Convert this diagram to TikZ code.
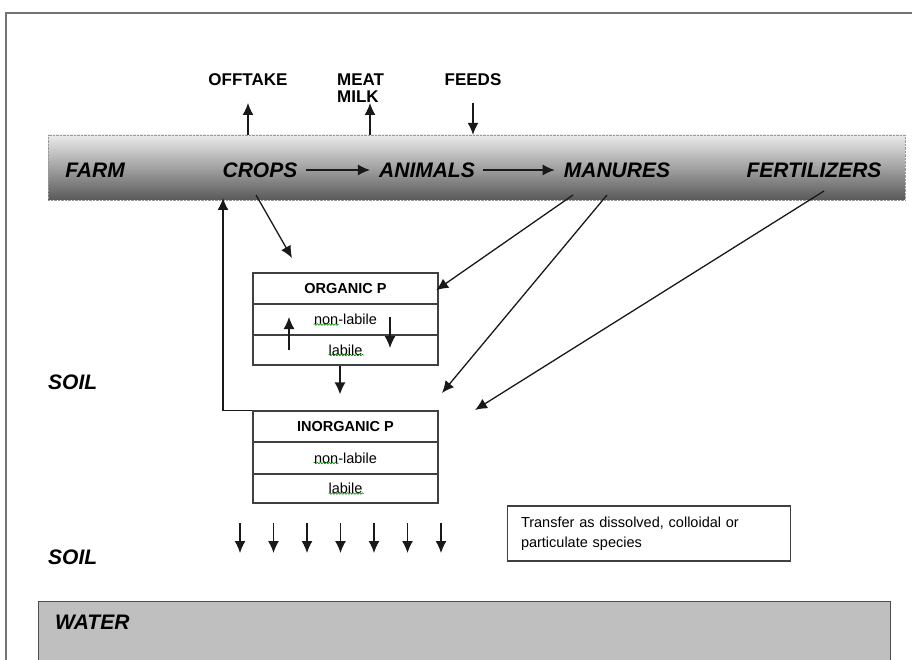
\documentclass[tikz,border=0pt]{standalone}
\usepackage{fontspec}
\setmainfont{Liberation Sans}
\usetikzlibrary{arrows.meta,decorations.pathmorphing}

\begin{document}
\begin{tikzpicture}[x=1pt, y=-1pt, >={Latex[length=12pt,width=11pt]},
      every node/.append style={inner sep=0pt},
      farmlabel/.style={font=\fontsize{21}{24}\selectfont\bfseries\itshape},
      outlabel/.style={font=\fontsize{17}{17}\selectfont\bfseries},
      prow/.style={draw=black!75, line width=1.2pt, minimum width=185pt, font=\fontsize{14.5}{15}\selectfont},
      ptitle/.style={prow, font=\fontsize{14.5}{15}\selectfont\bfseries},
      flow/.style={->, draw=black!90, line width=1.3pt},
      spell/.style={draw=green!55!black, line width=0.6pt, decorate, decoration={snake, amplitude=0.8pt, segment length=3pt}}]
    \path[use as bounding box] (0,0) rectangle (912,660);
    \clip (0,0) rectangle (912,660);
    \draw[black!55, line width=2pt] (6,670) -- (6,13) -- (920,13);

    \node (bandbox) [draw=black!40, densely dotted, top color=black!8, bottom color=black!65,
      minimum width=857pt, minimum height=65pt] at (476.5,167.5) {};
    \node (farm) [farmlabel] at (95,170) {FARM};
    \node (crops) [farmlabel] at (260,170) {CROPS};
    \node (animals) [farmlabel] at (427,170) {ANIMALS};
    \node (manures) [farmlabel] at (617,170) {MANURES};
    \node (fertilizers) [farmlabel] at (814,170) {FERTILIZERS};
    \draw[flow, shorten <=8pt, shorten >=9pt] (crops) -- (animals);
    \draw[flow, shorten <=8pt, shorten >=9pt] (animals) -- (manures);

    \node (offtake) [outlabel] at (248,80) {OFFTAKE};
    \node (meat) [outlabel, anchor=west] at (337,80) {MEAT};
    \node (milk) [outlabel, anchor=west] at (337,97) {MILK};
    \node (feeds) [outlabel] at (473,80) {FEEDS};
    \coordinate (offtip) at (248,103);
    \coordinate (milktip) at (370,103);
    \coordinate (feedtail) at (473,103);
    \draw[flow] (bandbox.north -| offtip) -- (offtip);
    \draw[flow] (bandbox.north -| milktip) -- (milktip);
    \draw[flow] (feedtail) -- (bandbox.north -| feedtail);

    \node (org) [ptitle, minimum height=31pt] at (345.5,288.5) {ORGANIC P};
    \node (orgnl) [prow, minimum height=31pt] at (345.5,319.5) {non-labile};
    \node (orgl) [prow, minimum height=30pt] at (345.5,350) {labile};
    \node (inorg) [ptitle, minimum height=31pt] at (345.5,426.5) {INORGANIC P};
    \node (inorgnl) [prow, minimum height=32pt] at (345.5,458) {non-labile};
    \node (inorgl) [prow, minimum height=29pt] at (345.5,488.5) {labile};
    \draw[spell] ([xshift=-32pt,yshift=-5pt]orgnl.center) -- ++(25,0);
    \draw[spell] ([xshift=-17pt,yshift=-5pt]orgl.center) -- ++(35,0);
    \draw[spell] ([xshift=-32pt,yshift=-5pt]inorgnl.center) -- ++(25,0);
    \draw[spell] ([xshift=-17pt,yshift=-5pt]inorgl.center) -- ++(35,0);

    \draw[flow] ([xshift=-56.5pt]orgl.center) -- ([xshift=-56.5pt,yshift=2.5pt]orgnl.center);
    \draw[flow] ([xshift=44.5pt,yshift=2.5pt]orgnl.center) -- ([xshift=44.5pt,yshift=2pt]orgl.center);
    \draw[flow] ([xshift=-5.5pt]orgl.south) -- ([xshift=-5.5pt,yshift=16pt]inorg.north);

    \coordinate (cropsback) at (223,198);
    \coordinate (cropsout) at (256,195);
    \coordinate (orgin) at (292,258);
    \coordinate (manout) at (573,195);
    \coordinate (manout2) at (607,195);
    \coordinate (inorgin) at (442,393);
    \coordinate (fertout) at (824,191);
    \coordinate (inorgin2) at (475,410);
    \draw[flow] (inorg.north west) -| (cropsback);
    \draw[flow] (cropsout) -- (orgin);
    \draw[flow, shorten >=-3pt] (manout) -- (org.east);
    \draw[flow] (manout2) -- (inorgin);
    \draw[flow] (fertout) -- (inorgin2);

    \coordinate (drain) at (240,553);
    \foreach \i in {0,...,6} {
      \coordinate (leach\i) at (240+33.5*\i,523);
      \draw[flow] (leach\i) -- (leach\i |- drain);
    }
    \node (transfer) [draw=black!75, line width=1.2pt, minimum width=283pt, minimum height=55pt,
      text width=256pt, align=left, font=\fontsize{14.5}{19.5}\selectfont] at (649,533.5)
      {Transfer as dissolved, colloidal or\\particulate species};

    \node (soil) [farmlabel, anchor=west] at (48,382) {SOIL};
    \node (soil2) [farmlabel, anchor=west] at (48,557) {SOIL};
    \node (water) [draw=black!70, line width=1.2pt, fill=black!25, anchor=north west,
      minimum width=852pt, minimum height=80pt] at (38,601) {};
    \node (waterlabel) [farmlabel, anchor=west] at (55,622) {WATER};
  \end{tikzpicture}
\end{document}
